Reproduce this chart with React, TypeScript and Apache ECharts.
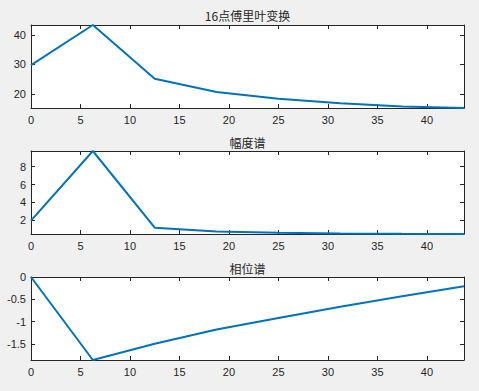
import React, { useEffect, useRef } from "react";
import * as echarts from "echarts";

const freq = [0, 6.25, 12.5, 18.75, 25, 31.25, 37.5, 43.75];
const fftValues = [29.8, 43.39, 25.2, 20.7, 18.4, 16.9, 15.8, 15.25];
const ampValues = [1.96, 9.76, 1.18, 0.76, 0.6, 0.53, 0.49, 0.47];
const phaseValues = [0, -1.864, -1.5, -1.18, -0.92, -0.67, -0.43, -0.206];

const titles = ["16点傅里叶变换", "幅度谱", "相位谱"];
const xTicks = [0, 5, 10, 15, 20, 25, 30, 35, 40];
const yTicks1 = [20, 30, 40];
const yTicks2 = [2, 4, 6, 8];
const yTicks3 = [-1.5, -1, -0.5, 0];

const xRange = [0, 43.75];
const yRanges = [
  [15.25, 43.39],
  [0.47, 9.76],
  [-1.864, 0],
];

export default function App() {
  const ref = useRef<HTMLDivElement>(null);
  useEffect(() => {
    if (!ref.current) return;
    const chart = echarts.init(ref.current, null, { renderer: "svg" });
    const axisColor = "#262626";
    const labelFont = {
      color: axisColor,
      fontSize: 11,
      fontFamily: "Liberation Sans, Arial, sans-serif",
    };
    const grids = [
      { left: 31, top: 25, width: 433, height: 83 },
      { left: 31, top: 151, width: 433, height: 83 },
      { left: 31, top: 277, width: 433, height: 83 },
    ].map((g) => ({ ...g, show: true, backgroundColor: "#ffffff", borderWidth: 0 }));
    const yTickSets = [yTicks1, yTicks2, yTicks3];
    const seriesData = [fftValues, ampValues, phaseValues];
    const xAxes: any[] = [];
    const yAxes: any[] = [];
    const series: any[] = [];
    for (let i = 0; i < 3; i++) {
      const common = {
        type: "value",
        gridIndex: i,
        splitLine: { show: false },
        axisLine: { show: true, onZero: false, lineStyle: { color: axisColor, width: 1 } },
      };
      xAxes.push({
        ...common,
        position: "bottom",
        min: xRange[0],
        max: xRange[1],
        axisTick: { show: true, inside: true, length: 4, customValues: xTicks, lineStyle: { color: axisColor } },
        axisLabel: { show: true, margin: 6, customValues: xTicks, ...labelFont },
      });
      xAxes.push({
        ...common,
        position: "top",
        min: xRange[0],
        max: xRange[1],
        axisTick: { show: true, inside: true, length: 4, customValues: xTicks, lineStyle: { color: axisColor } },
        axisLabel: { show: false },
      });
      yAxes.push({
        ...common,
        position: "left",
        min: yRanges[i][0],
        max: yRanges[i][1],
        axisTick: { show: true, inside: true, length: 4, customValues: yTickSets[i], lineStyle: { color: axisColor } },
        axisLabel: { show: true, margin: 5, customValues: yTickSets[i], ...labelFont },
      });
      yAxes.push({
        ...common,
        position: "right",
        min: yRanges[i][0],
        max: yRanges[i][1],
        axisTick: { show: true, inside: true, length: 4, customValues: yTickSets[i], lineStyle: { color: axisColor } },
        axisLabel: { show: false },
      });
      series.push({
        type: "line",
        xAxisIndex: i * 2,
        yAxisIndex: i * 2,
        data: freq.map((f, j) => [f, seriesData[i][j]]),
        showSymbol: false,
        symbol: "none",
        lineStyle: { color: "#0072BD", width: 2 },
        clip: true,
      });
    }
    const titleY = [15, 142, 268];
    chart.setOption({
      animation: false,
      backgroundColor: "#F0F0F0",
      grid: grids,
      xAxis: xAxes,
      yAxis: yAxes,
      series,
      graphic: titles.map((t, i) => ({
        type: "text",
        x: 247.5,
        y: titleY[i],
        style: {
          text: t,
          fill: "#262626",
          fontSize: 12,
          fontFamily: "Noto Sans CJK SC, Liberation Sans, sans-serif",
          textAlign: "center",
          textVerticalAlign: "middle",
        },
      })),
    });
    return () => chart.dispose();
  }, []);
  return (
    <div
      ref={ref}
      style={{ position: "fixed", left: 0, top: 0, width: 479, height: 391 }}
    />
  );
}
